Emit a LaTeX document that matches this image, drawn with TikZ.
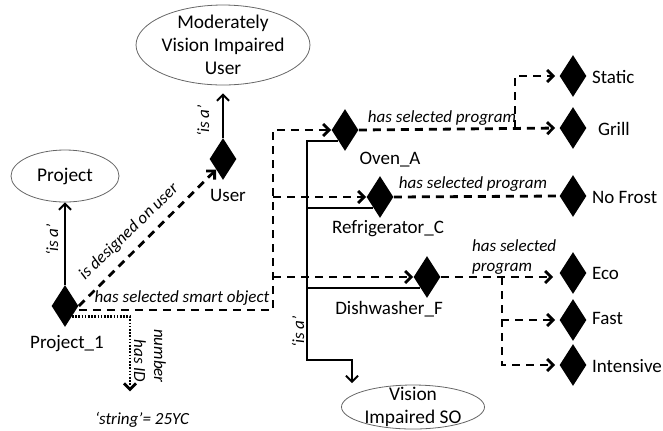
\documentclass[tikz,border=0pt]{standalone}
\usepackage{fontspec}
\setmainfont{Carlito}
\usetikzlibrary{shapes.geometric,arrows.meta}

\begin{document}
\begin{tikzpicture}[x=0.5pt,y=-0.5pt,font=\fontsize{9.5}{11.5}\selectfont,
        obj/.style={diamond,fill=black,inner sep=0pt,minimum width=13.5pt,minimum height=21pt},
        cls/.style={ellipse,draw=black!60,thin,inner xsep=0pt,inner ysep=-3pt,align=center,font=\fontsize{9.7}{11.5}\selectfont},
        rel/.style={font=\fontsize{8.5}{10}\selectfont\itshape},
        tip/.style={-{Straight Barb[length=3pt,width=6pt]}},
        sel/.style={dash pattern=on 4pt off 3pt,line width=1.4pt},
        isa/.style={line width=1pt}]
    \useasboundingbox (0,0) rectangle (663,430);

    \node[cls,minimum width=84pt,minimum height=40pt] at (223,45) (mvu) {Moderately\\Vision Impaired\\User};
    \node[cls,minimum width=54pt,minimum height=26pt] at (65,176) (proj) {Project};
    \node[cls,minimum width=71.5pt,minimum height=22pt] at (413,407) (visso) {Vision\\Impaired SO};

    \node[obj] at (223,159) (user) {};
    \node[obj] at (65,306) (p1) {};
    \node[obj] at (345,130) (oven) {};
    \node[obj] at (380,197) (fridge) {};
    \node[obj] at (427,277) (dish) {};
    \node[obj] at (573,76) (static) {};
    \node[obj] at (573,128) (grill) {};
    \node[obj] at (573,196) (nofrost) {};
    \node[obj] at (573,273) (eco) {};
    \node[obj] at (573,320) (fast) {};
    \node[obj] at (573,365) (intensive) {};

    \node at (228,195) (lUser) {User};
    \node at (67,344) (lP1) {Project\_1};
    \node at (390,160) (lOven) {Oven\_A};
    \node at (388,229) (lFridge) {Refrigerator\_C};
    \node at (389,309) (lDish) {Dishwasher\_F};
    \node[anchor=west] at (585,77) (lStatic) {Static};
    \node[anchor=west] at (591,129) (lGrill) {Grill};
    \node[anchor=west] at (585,197) (lNofrost) {No Frost};
    \node[anchor=west] at (585,273) (lEco) {Eco};
    \node[anchor=west] at (585,318) (lFast) {Fast};
    \node[anchor=west] at (585,366) (lIntensive) {Intensive};

    \node[rel,rotate=90] at (203,121) (r1) {`is a'};
    \node[rel,rotate=90] at (52,240) (r2) {`is a'};
    \node[rel,rotate=90] at (298,332) (r3) {`is a'};
    \node[rel,rotate=44] at (129,232) (r4) {is designed on user};
    \node[rel] at (182,298) (r5) {has selected smart object};
    \node[rel] at (442,118) (r6) {has selected program};
    \node[rel] at (473,184) (r7) {has selected program};
    \node[rel,anchor=west,align=left] at (465,257) (r8) {has selected\\program};
    \node[rel,rotate=-90] at (140,361) (r9) {has ID};
    \node[rel,rotate=-90] at (160,356) (r10) {number};
    \node[rel] at (142,420) (idstr) {`string'= 25YC};

    \coordinate (sobus) at (273,130);
    \coordinate (ovenfork) at (515,128);
    \coordinate (dishfork) at (502,277);
    \coordinate (isabend) at (307,360);

    % is a
    \draw[isa,tip,shorten >=4pt] (user.north) -- (mvu.south);
    \draw[isa,tip] (p1.north) -- (proj.south);
    \draw[isa,tip,shorten >=6pt] (oven.south west) -| (isabend) -| (visso.169);
    \draw[isa] (isabend |- fridge.south west) -- (fridge.south west);
    \draw[isa] (isabend |- dish.south west) -- (dish.south west);

    % smart objects
    \draw[sel,tip] (p1.east) -- (user.south west);
    \draw[sel,tip] ([yshift=-2pt]p1.east) -| (sobus) -- (oven.west);
    \draw[sel,tip] (sobus |- fridge.west) -- (fridge.west);
    \draw[sel,tip] (sobus |- dish.west) -- (dish.west);

    % programs
    \draw[sel,tip,shorten >=2pt] (oven.east) -- (grill.west);
    \draw[sel,tip,shorten >=2pt] (ovenfork) |- (static.west);
    \draw[sel] (fridge.east) -- (nofrost.west);
    \draw[sel,tip,shorten >=3pt] (dish.east) -- (dish.east -| eco.west);
    \draw[sel,tip,shorten >=2pt] (dishfork) |- (fast.west);
    \draw[sel,tip,shorten >=2pt] (dishfork) |- (intensive.west);

    % ID
    \draw[tip,line width=1.4pt,dash pattern=on 0.8pt off 0.8pt,shorten >=7pt] (p1.south east) -| ([xshift=-6pt]idstr.north);
\end{tikzpicture}
\end{document}
